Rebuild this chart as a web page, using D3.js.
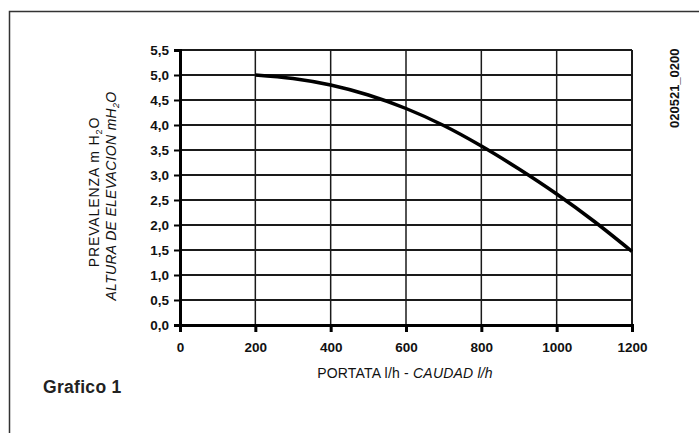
<!DOCTYPE html>
<html>
<head>
<meta charset="utf-8">
<script src="https://cdn.jsdelivr.net/npm/d3@7"></script>
<style>
	body { margin: 0; background: #fff; }
	svg { display: block; font-family: "Liberation Sans", Arial, sans-serif; }
</style>
</head>
<body>
<div id="chart"></div>
<script>
// pump curve
var portata = [200, 300, 400, 500, 600, 700, 800, 900, 1000, 1100, 1200];
var prevalenza = [5.0, 4.93, 4.8, 4.6, 4.33, 3.99, 3.58, 3.12, 2.62, 2.07, 1.47];
var xTicks = [0, 200, 400, 600, 800, 1000, 1200];
var yTicks = [0, 0.5, 1, 1.5, 2, 2.5, 3, 3.5, 4, 4.5, 5, 5.5];

var svg = d3.select("#chart").append("svg")
	.attr("width", 699)
	.attr("height", 433);

// page frame (top and left edge only)
svg.append("path")
	.attr("d", "M9.5,433V11.5H699")
	.attr("fill", "none")
	.attr("stroke", "#333")
	.attr("stroke-width", 1.5);

var xScale = d3.scaleLinear().domain([0, 1200]).range([180, 632]);
var yScale = d3.scaleLinear().domain([0, 5.5]).range([325, 50]);

// grid
svg.append("g").selectAll("line")
	.data(yTicks.slice(1))
	.enter()
	.append("line")
	.attr("x1", xScale(0)).attr("x2", xScale(1200))
	.attr("y1", function(d) { return yScale(d); })
	.attr("y2", function(d) { return yScale(d); })
	.attr("stroke", "#1a1a1a")
	.attr("stroke-width", 2);

svg.append("g").selectAll("line")
	.data(xTicks.slice(1))
	.enter()
	.append("line")
	.attr("y1", yScale(0)).attr("y2", yScale(5.5))
	.attr("x1", function(d) { return xScale(d); })
	.attr("x2", function(d) { return xScale(d); })
	.attr("stroke", "#1a1a1a")
	.attr("stroke-width", function(d) { return d == 1200 ? 2 : 1.5; });

// axes
var yAxis = d3.axisLeft(yScale).tickValues(yTicks).tickSize(6).tickPadding(5)
	.tickFormat(function(d) { return d3.format(".1f")(d).replace(".", ","); });
var xAxis = d3.axisBottom(xScale).tickValues(xTicks).tickSize(7).tickPadding(10)
	.tickFormat(function(d) { return d; });

var gy = svg.append("g").attr("transform", "translate(180,0)").call(yAxis);
var gx = svg.append("g").attr("transform", "translate(0,325)").call(xAxis);

gy.select(".domain").attr("stroke", "#000").attr("stroke-width", 3);
gx.select(".domain").attr("stroke", "#000").attr("stroke-width", 3);
gy.selectAll(".tick line").attr("stroke", "#000").attr("stroke-width", 2);
gx.selectAll(".tick line").attr("stroke", "#000").attr("stroke-width", 3);
svg.selectAll(".tick text")
	.attr("fill", "#111")
	.style("font-size", "13.5px")
	.style("font-weight", "bold")
	.style("font-family", "'Liberation Sans', Arial, sans-serif");

// curve
var line = d3.line()
	.x(function(d, i) { return xScale(portata[i]); })
	.y(function(d) { return yScale(d); })
	.curve(d3.curveCatmullRom);

svg.append("path")
	.datum(prevalenza)
	.attr("d", line)
	.attr("fill", "none")
	.attr("stroke", "#000")
	.attr("stroke-width", 3.5);

// axis titles
var xTitle = svg.append("text")
	.attr("x", 405).attr("y", 378)
	.attr("text-anchor", "middle")
	.style("font-size", "14px")
	.style("letter-spacing", "0.2px")
	.attr("fill", "#111");
xTitle.append("tspan").text("PORTATA l/h - ");
xTitle.append("tspan").style("font-style", "italic").text("CAUDAD l/h");

var yTitle1 = svg.append("text")
	.attr("transform", "translate(99,192) rotate(-90)")
	.attr("text-anchor", "middle")
	.style("font-size", "14px")
	.style("letter-spacing", "0.9px")
	.attr("fill", "#111");
yTitle1.append("tspan").text("PREVALENZA m H");
yTitle1.append("tspan").attr("dy", 3).style("font-size", "9px").text("2");
yTitle1.append("tspan").attr("dy", -3).text("O");

var yTitle2 = svg.append("text")
	.attr("transform", "translate(116,196) rotate(-90)")
	.attr("text-anchor", "middle")
	.style("font-size", "14px")
	.style("font-style", "italic")
	.style("letter-spacing", "0.3px")
	.attr("fill", "#111");
yTitle2.append("tspan").text("ALTURA DE ELEVACION mH");
yTitle2.append("tspan").attr("dy", 3).style("font-size", "9px").text("2");
yTitle2.append("tspan").attr("dy", -3).text("O");

// code label and caption
svg.append("text")
	.attr("transform", "translate(679,128) rotate(-90)")
	.style("font-size", "13px")
	.style("font-weight", "bold")
	.attr("fill", "#111")
	.text("020521_0200");

svg.append("text")
	.attr("x", 43).attr("y", 393)
	.style("font-size", "17.5px")
	.style("font-weight", "bold")
	.style("letter-spacing", "0.3px")
	.attr("fill", "#222")
	.text("Grafico 1");
</script>
</body>
</html>
